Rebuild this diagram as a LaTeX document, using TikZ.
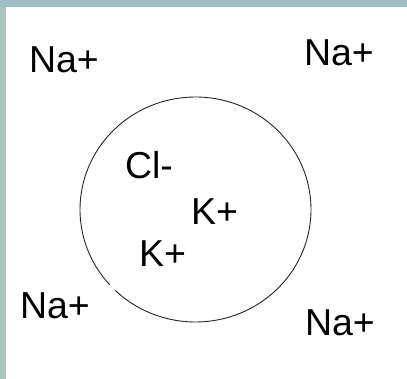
\documentclass[tikz,border=0pt]{standalone}
\usepackage{fontspec}
\setmainfont{Liberation Sans}
\definecolor{frame}{HTML}{A0BFC5}
\definecolor{frameleft}{HTML}{AFC5C2}
\begin{document}
\begin{tikzpicture}[x=1pt,y=-1pt,
  ion/.style={anchor=base west,inner sep=0pt,outer sep=0pt,font=\fontsize{37.5}{40}\selectfont}]
\useasboundingbox (0,0) rectangle (407,379);
\fill[white] (0,0) rectangle (407,379);
\fill[frame] (0,0) rectangle (407,7);
\fill[frameleft] (0,7) rectangle (6,379);
% cell membrane
\draw[line width=0.9pt,black!85] (195.5,209.5) ++(226:115.5 and -112.5)
  arc[start angle=226,end angle=582,x radius=115.5,y radius=-112.5];
\node[ion] (na1) at (29,73) {Na+};
\node[ion] (na2) at (304,66) {Na+};
\node[ion] (na3) at (20,319) {Na+};
\node[ion] (na4) at (305,335) {Na+};
\node[ion] (cl) at (125,179) {Cl-};
\node[ion] (k1) at (191,225) {K+};
\node[ion] (k2) at (139,267) {K+};
\end{tikzpicture}
\end{document}
